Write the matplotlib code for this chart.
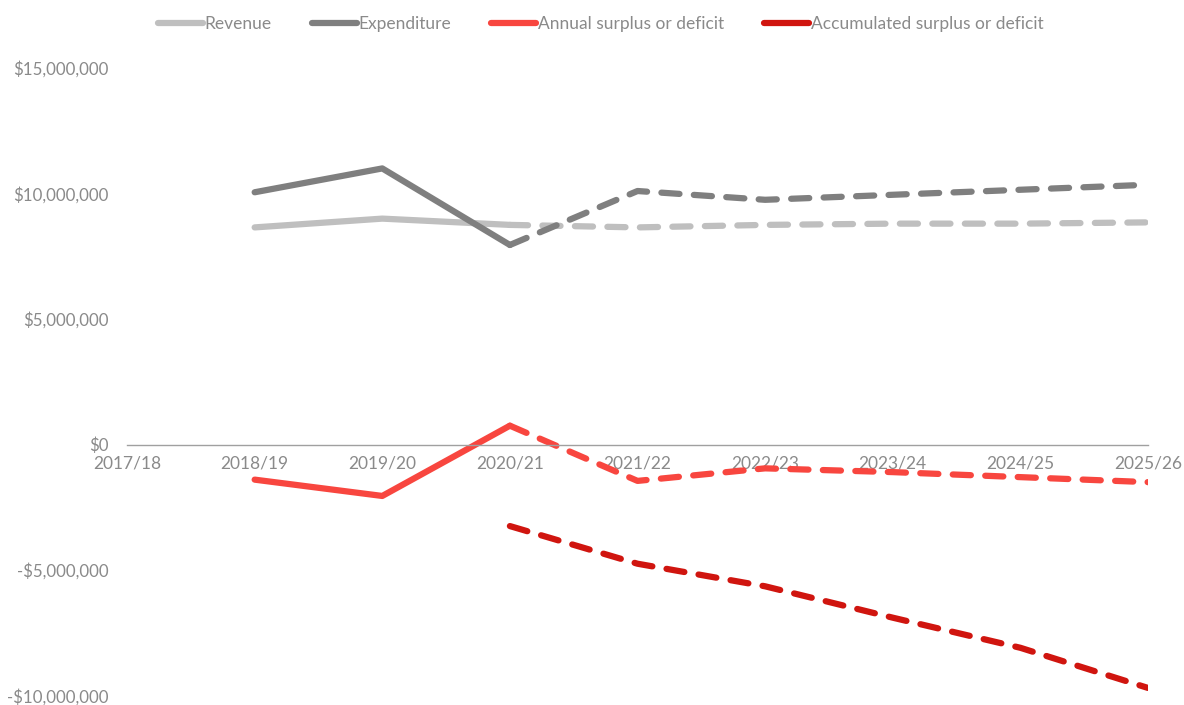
import matplotlib.pyplot as plt
import matplotlib.ticker as mticker
import numpy as np

plt.rcParams['font.family'] = ['Lato', 'DejaVu Sans']

years = ["2017/18", "2018/19", "2019/20", "2020/21", "2021/22",
         "2022/23", "2023/24", "2024/25", "2025/26"]
nan = np.nan
revenue = [nan, 8.65e6, 9.0e6, 8.75e6, 8.65e6, 8.75e6, 8.8e6, 8.8e6, 8.85e6]
expenditure = [nan, 10.05e6, 11.0e6, 7.95e6, 10.1e6, 9.75e6, 9.95e6, 10.15e6, 10.35e6]
annual = [nan, -1.4e6, -2.05e6, 0.75e6, -1.45e6, -0.95e6, -1.1e6, -1.3e6, -1.5e6]
accumulated = [nan, nan, nan, -3.25e6, -4.75e6, -5.65e6, -6.9e6, -8.1e6, -9.7e6]

# last actual year; forecasts from here on are dashed
split = 3

series = [
    ("Revenue", revenue, "#bfbfbf"),
    ("Expenditure", expenditure, "#7f7f7f"),
    ("Annual surplus or deficit", annual, "#f8463f"),
    ("Accumulated surplus or deficit", accumulated, "#d0150f"),
]

text_grey = "#8a8a8a"
lw = 4.5

fig = plt.figure(figsize=(11.84, 7.05), dpi=100)
ax = fig.add_axes([0.1073, 0.0135, 0.8623, 0.89])
x = np.arange(len(years))

for name, vals, col in series:
    vals = np.array(vals)
    ax.plot(x[:split + 1], vals[:split + 1], color=col, lw=lw,
            solid_capstyle="round", solid_joinstyle="round")
    ax.plot(x[split:], vals[split:], color=col, lw=lw, linestyle=(0, (2.9, 2.3)),
            dash_capstyle="round", dash_joinstyle="round")
    ax.plot([], [], color=col, lw=lw, solid_capstyle="round", label=name)

ax.set_xlim(0, len(years) - 1)
ax.set_ylim(-10e6, 15e6)
ax.set_yticks(np.arange(-10e6, 15e6 + 1, 5e6))
ax.yaxis.set_major_formatter(mticker.FuncFormatter(
    lambda v, p: ("-$" if v < 0 else "$") + f"{abs(v):,.0f}"))
ax.set_xticks(x)
ax.set_xticklabels(years)

for s in ["top", "right", "left"]:
    ax.spines[s].set_visible(False)
ax.spines["bottom"].set_position(("data", 0))
ax.spines["bottom"].set_color("#a0a0a0")
ax.spines["bottom"].set_linewidth(1.0)
ax.tick_params(axis="both", length=0, colors=text_grey, labelsize=12.5)
ax.tick_params(axis="y", pad=13, labelsize=12.2)
ax.tick_params(axis="x", pad=8)

leg = ax.legend(loc="center", bbox_to_anchor=(0.464, 1.07), ncol=4, frameon=False,
                fontsize=12.5, handlelength=2.6, handletextpad=0.1,
                columnspacing=2.3)
for t in leg.get_texts():
    t.set_color(text_grey)

fig.savefig("out.png", dpi=100)
